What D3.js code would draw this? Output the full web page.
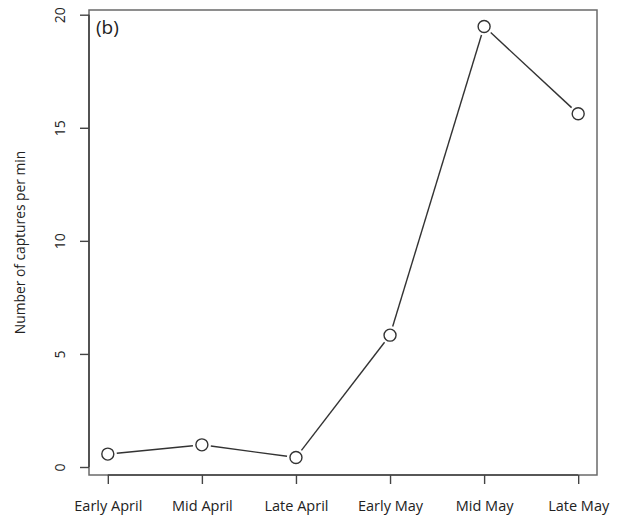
<!DOCTYPE html>
<html>
<head>
<meta charset="utf-8">
<script src="https://cdn.jsdelivr.net/npm/d3@7"></script>
<style>
  html, body { margin: 0; padding: 0; background: #fff; }
  svg { display: block; font-family: "Open Sans", "Noto Sans", sans-serif; }
</style>
</head>
<body>
<svg id="chart" width="623" height="517"></svg>
<script>
// Capture rate by sampling period
const periods = ["Early April", "Mid April", "Late April", "Early May", "Mid May", "Late May"];
const capturesPerMin = [0.57, 0.98, 0.42, 5.83, 19.48, 15.62];
const yTicks = [0, 5, 10, 15, 20];
const panelLabel = "(b)";
const yTitle = "Number of captures per min";

const svg = d3.select("#chart");
const box = { left: 89, right: 597, top: 10, bottom: 475 };

const x = d3.scalePoint()
  .domain(periods)
  .range([box.left, box.right])
  .padding(0.2);

const y = d3.scaleLinear()
  .domain([0, 20])
  .range([467, 14.7]);

// Plot frame
svg.append("rect")
  .attr("x", box.left).attr("y", box.top)
  .attr("width", box.right - box.left).attr("height", box.bottom - box.top)
  .attr("fill", "none").attr("stroke", "#6a6a6a").attr("stroke-width", 1.5);

// Y axis
const yAxis = svg.append("g")
  .attr("transform", `translate(${box.left},0)`)
  .call(d3.axisLeft(y).tickValues(yTicks).tickSize(9).tickPadding(0).tickFormat(d3.format("d")));
yAxis.select(".domain")
  .attr("d", `M0,${y(0)}V${y(20)}`)
  .attr("stroke", "#444").attr("stroke-width", 1.6);
yAxis.selectAll(".tick line").attr("stroke", "#444").attr("stroke-width", 1.4);
yAxis.selectAll(".tick text")
  .attr("x", 0).attr("dy", 0)
  .attr("transform", "translate(-24,0) rotate(-90)")
  .attr("text-anchor", "middle")
  .attr("font-size", 14).attr("fill", "#222")
  .attr("font-family", "'Open Sans', sans-serif");

// X axis
const xAxis = svg.append("g")
  .attr("transform", `translate(0,${box.bottom})`)
  .call(d3.axisBottom(x).tickSize(9).tickPadding(17));
xAxis.select(".domain")
  .attr("d", `M${x(periods[0])},0H${x(periods[periods.length - 1])}`)
  .attr("stroke", "#444").attr("stroke-width", 1.6);
xAxis.selectAll(".tick line").attr("stroke", "#444").attr("stroke-width", 1.4);
xAxis.selectAll(".tick text")
  .attr("font-size", 14.5).attr("fill", "#222")
  .attr("font-family", "'Open Sans', sans-serif");

// Axis title
svg.append("text")
  .attr("transform", `translate(25,${(box.top + box.bottom) / 2}) rotate(-90)`)
  .attr("text-anchor", "middle")
  .attr("font-size", 13.8).attr("fill", "#222")
  .text(yTitle);

// Panel label
svg.append("text")
  .attr("x", box.left + 7).attr("y", box.top + 24)
  .attr("font-size", 19).attr("fill", "#222")
  .text(panelLabel);

// Connecting line with gaps around the markers
const pts = periods.map((p, i) => [x(p), y(capturesPerMin[i])]);
const r = 6, gap = 9;
const segs = [];
for (let i = 0; i < pts.length - 1; i++) {
  const [x0, y0] = pts[i], [x1, y1] = pts[i + 1];
  const len = Math.hypot(x1 - x0, y1 - y0);
  const ux = (x1 - x0) / len, uy = (y1 - y0) / len;
  segs.push([[x0 + ux * gap, y0 + uy * gap], [x1 - ux * gap, y1 - uy * gap]]);
}
svg.append("g").selectAll("line").data(segs).join("line")
  .attr("x1", d => d[0][0]).attr("y1", d => d[0][1])
  .attr("x2", d => d[1][0]).attr("y2", d => d[1][1])
  .attr("stroke", "#333").attr("stroke-width", 1.4);

// Open circle markers
svg.append("g").selectAll("circle").data(periods).join("circle")
  .attr("cx", d => x(d))
  .attr("cy", (d, i) => y(capturesPerMin[i]))
  .attr("r", r)
  .attr("fill", "#fff").attr("stroke", "#333").attr("stroke-width", 1.4);
</script>
</body>
</html>
